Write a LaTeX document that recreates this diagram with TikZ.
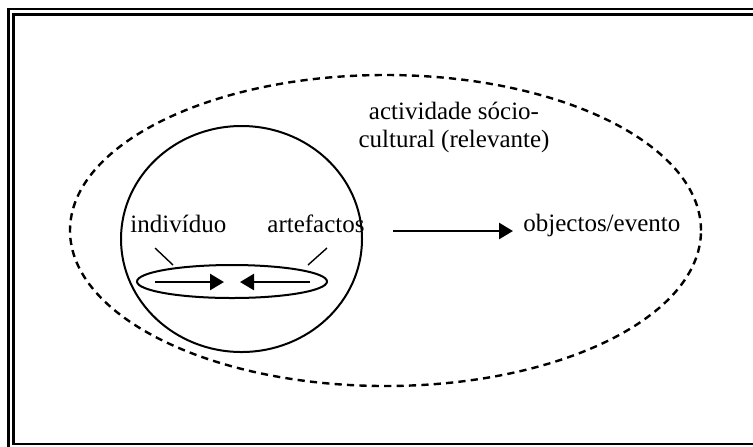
\documentclass[tikz,border=0pt]{standalone}
\usepackage{fontspec}
\setmainfont{Liberation Serif}
\usetikzlibrary{arrows.meta,shapes.geometric}
\begin{document}
\begin{tikzpicture}[x=0.5pt,y=-0.5pt,
  frameline/.style={line width=1.25pt},
  outline/.style={draw, ellipse, line width=1pt, inner sep=0pt},
  txt/.style={font=\fontsize{12.5}{14}\selectfont, inner sep=0pt, anchor=base west},
  flow/.style={line width=1.3pt, -{Triangle[length=7pt,width=8pt]}},
  tick/.style={line width=0.7pt}]
\useasboundingbox (0,0) rectangle (753,446);
\clip (0,0) rectangle (753,446);
% double frame
\draw[frameline] (8.5,9) rectangle (800,449.5);
\draw[frameline] (13.5,14.5) rectangle (795,444);
% activity, agent and mediation outlines
\node[outline, line width=1.2pt, dash pattern=on 3.6pt off 2.6pt,
      minimum width=315.5pt, minimum height=155.5pt] (activity) at (385.5,230.5) {};
\node[outline, minimum width=120.5pt, minimum height=113pt] (agent) at (241.5,239) {};
\node[outline, minimum width=95pt, minimum height=16.5pt] (mediation) at (232,281.5) {};
% labels
\node[txt] (individuo) at (130,232) {indivíduo};
\node[txt] (artefactos) at (267,232) {artefactos};
\node[txt] (objectos) at (523,231) {objectos/evento};
\node[txt, anchor=base, align=center] (actividade) at (454,147) {actividade sócio-\\cultural (relevante)};
% pointer ticks
\coordinate (t1a) at (155,248); \coordinate (t1b) at (173,265);
\coordinate (t2a) at (327,248); \coordinate (t2b) at (308,265);
\draw[tick] (t1a) -- (t1b);
\draw[tick] (t2a) -- (t2b);
% arrows
\coordinate (a1) at (155,282); \coordinate (a1tip) at (224,282);
\coordinate (a2) at (310,282); \coordinate (a2tip) at (240,282);
\coordinate (b1) at (393,231); \coordinate (b1tip) at (513,231);
\draw[flow] (a1) -- (a1tip);
\draw[flow] (a2) -- (a2tip);
\draw[flow] (b1) -- (b1tip);
\end{tikzpicture}
\end{document}
